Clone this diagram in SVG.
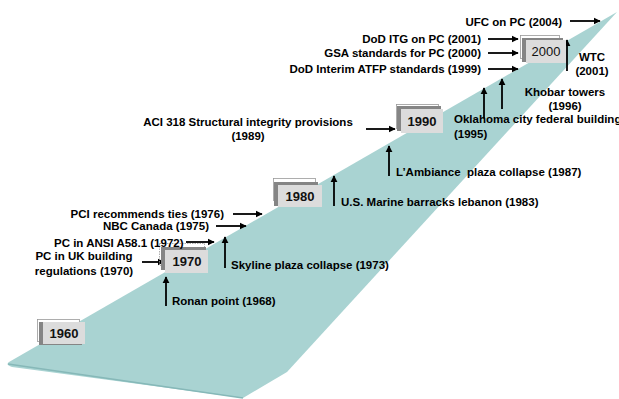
<svg xmlns="http://www.w3.org/2000/svg" width="619" height="399" viewBox="0 0 619 399">
<defs>
<style>
.t{font-family:"Liberation Sans",Arial,sans-serif;font-weight:bold;font-size:11.5px;fill:#000}
.y{font-family:"Liberation Sans",Arial,sans-serif;font-weight:bold;font-size:13px;fill:#111;text-anchor:middle}
.fr{fill:none;stroke:#9a9a9a;stroke-width:0.8}
.dk{fill:#858585}
.lt{fill:#dcdcdc}
.ar{stroke:#000;stroke-width:1.8;fill:none;marker-end:url(#ah)}
</style>
<marker id="ah" viewBox="0 0 10 10" refX="9" refY="5" markerWidth="4" markerHeight="4" orient="auto" markerUnits="strokeWidth">
<path d="M0,0 L10,5 L0,10 Z" fill="#000"/>
</marker>
</defs>
<rect width="619" height="399" fill="#fff"/>
<g id="band">
<path d="M9,362 L617,12 L287,372 L243,398 L12,367 Q5,365 9,362 Z" fill="#a9d3d2"/>
<path d="M8,364 L243,398" stroke="#86b8b8" stroke-width="1.5" fill="none"/>
</g>
<g id="connectors">
<line class="ar" x1="570" y1="21" x2="600" y2="21"/>
<line class="ar" x1="488" y1="39" x2="518" y2="39"/>
<line class="ar" x1="488" y1="53" x2="518" y2="53"/>
<line class="ar" x1="488" y1="69" x2="518" y2="69"/>
<line class="ar" x1="567" y1="71" x2="567" y2="40"/>
<line class="ar" x1="502" y1="109" x2="502" y2="79"/>
<line class="ar" x1="484" y1="118" x2="484" y2="88"/>
<line class="ar" x1="366" y1="129" x2="395" y2="129"/>
<line class="ar" x1="389" y1="176" x2="389" y2="146"/>
<line class="ar" x1="334" y1="206" x2="334" y2="176"/>
<line class="ar" x1="233" y1="214" x2="262" y2="214"/>
<line class="ar" x1="216" y1="226" x2="246" y2="226"/>
<line class="ar" x1="186" y1="242" x2="214" y2="242"/>
<line class="ar" x1="142" y1="262" x2="164" y2="262"/>
<line class="ar" x1="225" y1="268" x2="225" y2="237"/>
<line class="ar" x1="166" y1="306" x2="166" y2="277"/>
</g>
<g id="y1960">
<rect class="fr" x="37.5" y="319.5" width="42" height="22"/>
<rect class="dk" x="39" y="322" width="43" height="23"/>
<rect class="lt" x="43" y="322" width="42" height="22"/>
<text class="y" x="64" y="338">1960</text>
</g>
<g id="y1970">
<rect class="fr" x="159.5" y="243.5" width="45" height="22" stroke-dasharray="1.5,1"/>
<rect class="dk" x="161" y="247" width="45" height="23"/>
<rect class="lt" x="165" y="250" width="43" height="23"/>
<text class="y" x="187" y="266">1970</text>
</g>
<g id="y1980">
<rect class="fr" x="273.5" y="178.5" width="42" height="22"/>
<rect class="dk" x="274" y="182" width="44" height="24"/>
<rect class="lt" x="278" y="185" width="44" height="22"/>
<text class="y" x="300" y="201">1980</text>
</g>
<g id="y1990">
<rect class="fr" x="396.5" y="104.5" width="42" height="24"/>
<rect class="dk" x="397" y="106" width="44" height="25"/>
<rect class="lt" x="401" y="109" width="42" height="24"/>
<text class="y" x="422" y="126">1990</text>
</g>
<g id="y2000">
<rect class="fr" x="520.5" y="35.5" width="39" height="23"/>
<rect class="dk" x="522" y="38" width="41" height="24"/>
<rect class="lt" x="526" y="40" width="40" height="23"/>
<text class="y" x="546" y="56" style="font-weight:normal">2000</text>
</g>
<g id="labels">
<text class="t" x="562" y="26" text-anchor="end">UFC on PC (2004)</text>
<text class="t" x="481" y="43" text-anchor="end">DoD ITG on PC (2001)</text>
<text class="t" x="481" y="57" text-anchor="end">GSA standards for PC (2000)</text>
<text class="t" x="481" y="73" text-anchor="end">DoD Interim ATFP standards (1999)</text>
<text class="t" x="592" y="61" text-anchor="middle">WTC</text>
<text class="t" x="592" y="75" text-anchor="middle">(2001)</text>
<text class="t" x="565" y="96" text-anchor="middle">Khobar towers</text>
<text class="t" x="565" y="110" text-anchor="middle">(1996)</text>
<text class="t" x="454" y="123">Oklahoma city federal building</text>
<text class="t" x="454" y="138">(1995)</text>
<text class="t" x="248" y="126" text-anchor="middle">ACI 318 Structural integrity provisions</text>
<text class="t" x="248" y="140" text-anchor="middle">(1989)</text>
<text class="t" x="396" y="176" xml:space="preserve">L’Ambiance  plaza collapse (1987)</text>
<text class="t" x="341" y="206">U.S. Marine barracks lebanon (1983)</text>
<text class="t" x="224" y="218" text-anchor="end">PCI recommends ties (1976)</text>
<text class="t" x="209" y="230" text-anchor="end">NBC Canada (1975)</text>
<text class="t" x="54" y="247">PC in ANSI A58.1 (1972)</text>
<text class="t" x="84" y="260" text-anchor="middle">PC in UK building</text>
<text class="t" x="84" y="275" text-anchor="middle">regulations (1970)</text>
<text class="t" x="231" y="269">Skyline plaza collapse (1973)</text>
<text class="t" x="172" y="305">Ronan point (1968)</text>
</g>
</svg>
